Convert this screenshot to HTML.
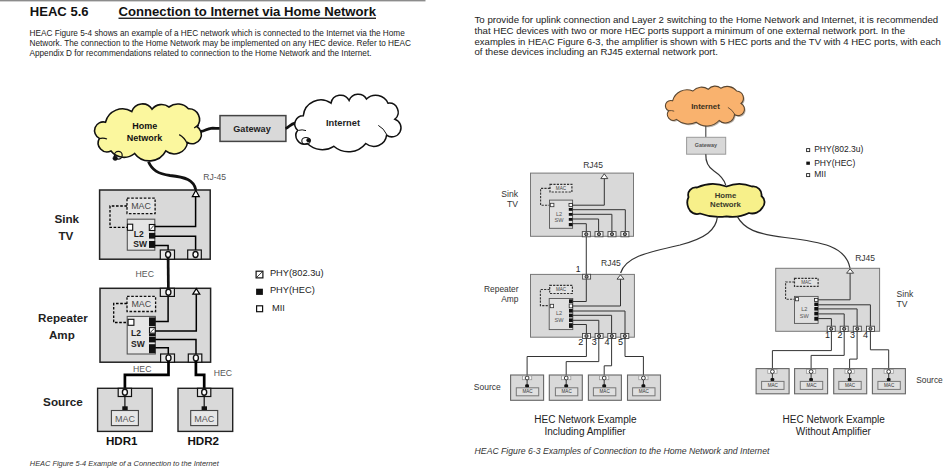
<!DOCTYPE html>
<html><head><meta charset="utf-8"><title>HEAC</title>
<style>html,body{margin:0;padding:0;background:#fff;width:946px;height:475px;overflow:hidden;position:relative}</style>
</head><body>
<svg width="946" height="475" viewBox="0 0 946 475" style="position:absolute;left:0;top:0;font-family:'Liberation Sans', sans-serif">
<rect x="0" y="0" width="946" height="475" fill="#fff"/>
<rect x="0.00" y="0.00" width="425.50" height="1.40" fill="#8c8c8c" stroke="none" stroke-width="0"/>
<text x="29.8" y="15.9" font-size="13" font-weight="bold" font-style="normal" text-anchor="start" fill="#111" textLength="58.8" lengthAdjust="spacingAndGlyphs">HEAC 5.6</text>
<text x="118.5" y="15.9" font-size="13" font-weight="bold" font-style="normal" text-anchor="start" fill="#111" textLength="257.5" lengthAdjust="spacingAndGlyphs">Connection to Internet via Home Network</text>
<rect x="118.50" y="17.60" width="257.50" height="1.30" fill="#111" stroke="none" stroke-width="0"/>
<text x="29.5" y="35.7" font-size="8.2" font-weight="normal" font-style="normal" text-anchor="start" fill="#222" textLength="375.3" lengthAdjust="spacingAndGlyphs">HEAC Figure 5-4 shows an example of a HEC network which is connected to the Internet via the Home</text>
<text x="29.5" y="45.7" font-size="8.2" font-weight="normal" font-style="normal" text-anchor="start" fill="#222" textLength="381.5" lengthAdjust="spacingAndGlyphs">Network. The connection to the Home Network may be implemented on any HEC device. Refer to HEAC</text>
<text x="29.5" y="55.7" font-size="8.2" font-weight="normal" font-style="normal" text-anchor="start" fill="#222" textLength="342.0" lengthAdjust="spacingAndGlyphs">Appendix D for recommendations related to connection to the Home Network and the Internet.</text>
<path d="M99.40,138.40 A8.70,8.70 0 0 1 105.50,122.20 A17.52,17.52 0 0 1 131.80,111.50 A11.23,11.23 0 0 1 152.00,109.20 A12.14,12.14 0 0 1 169.00,107.00 A14.23,14.23 0 0 1 188.40,108.80 A10.64,10.64 0 0 1 196.80,126.50 A9.25,9.25 0 0 1 187.50,142.50 A13.40,13.40 0 0 1 165.80,150.90 A18.47,18.47 0 0 1 134.60,153.50 A16.54,16.54 0 0 1 111.00,151.00 A8.98,8.98 0 0 1 99.40,138.40 Z" fill="#fbf79e" stroke="#111" stroke-width="1.6"/>
<path d="M99,138.8 Q103,137.4 107,139" fill="none" stroke="#111" stroke-width="1.2"/>
<path d="M179.2,134.6 Q184.5,137.5 187,143.2" fill="none" stroke="#111" stroke-width="1.2"/>
<path d="M194.2,128 Q196.2,126 199,125.6" fill="none" stroke="#111" stroke-width="1.1"/>
<circle cx="118.30" cy="155.30" r="3.9" fill="none" stroke="#111" stroke-width="1.2"/>
<circle cx="115.20" cy="158.20" r="2.3" fill="#111" stroke="#111" stroke-width="0.5"/>
<text x="144.7" y="128.7" font-size="9" font-weight="bold" font-style="normal" text-anchor="middle" fill="#111">Home</text>
<text x="144.6" y="140.9" font-size="9" font-weight="bold" font-style="normal" text-anchor="middle" fill="#111">Network</text>
<path d="M200.5,131.5 C205,131.5 207,128.5 211,128.3 C215,128.1 217,128.6 220.5,128.4" fill="none" stroke="#111" stroke-width="2.8"/>
<rect x="220.00" y="115.60" width="65.90" height="25.80" fill="#d9d9d9" stroke="#444" stroke-width="1.5"/>
<text x="252" y="132.2" font-size="9.1" font-weight="bold" font-style="normal" text-anchor="middle" fill="#222">Gateway</text>
<path d="M285.5,128.5 C289,127.5 290,124 295.5,123" fill="none" stroke="#111" stroke-width="2.8"/>
<path d="M297.70,130.30 A8.34,8.34 0 0 1 303.30,115.70 A17.55,17.55 0 0 1 331.00,103.20 A9.67,9.67 0 0 1 349.10,100.40 A9.74,9.74 0 0 1 366.50,99.00 A13.51,13.51 0 0 1 388.00,103.20 A9.09,9.09 0 0 1 394.90,119.20 A9.07,9.07 0 1 1 386.60,135.10 A12.80,12.80 0 0 1 365.80,143.50 A22.24,22.24 0 0 1 333.80,146.30 A20.98,20.98 0 0 1 307.40,143.50 A8.53,8.53 0 0 1 297.70,130.30 Z" fill="#fff" stroke="#111" stroke-width="1.5"/>
<path d="M298.4,130.4 Q302,129.2 306,130.6" fill="none" stroke="#111" stroke-width="1.0"/>
<path d="M378.3,125.4 Q384,128.5 386.6,134.4" fill="none" stroke="#111" stroke-width="1.0"/>
<ellipse cx="306" cy="140.9" rx="4.2" ry="3.4" fill="none" stroke="#111" stroke-width="1.1"/>
<circle cx="308.60" cy="140.20" r="2.0" fill="#111" stroke="#111" stroke-width="0.5"/>
<text x="343" y="126" font-size="9.3" font-weight="bold" font-style="normal" text-anchor="middle" fill="#222">Internet</text>
<path d="M148.5,161.8 C152,170 158,174 170,175.5 C185,177 194,180 195.8,190" fill="none" stroke="#111" stroke-width="2.8"/>
<text x="203.2" y="179.6" font-size="8.6" font-weight="normal" font-style="normal" text-anchor="start" fill="#555">RJ-45</text>
<rect x="99.60" y="190.00" width="110.60" height="69.20" fill="#d9d9d9" stroke="#222" stroke-width="1.5"/>
<text x="54.4" y="222.5" font-size="11.7" font-weight="bold" font-style="normal" text-anchor="start" fill="#222">Sink</text>
<text x="58.4" y="239.8" font-size="11.7" font-weight="bold" font-style="normal" text-anchor="start" fill="#222">TV</text>
<rect x="127.00" y="198.10" width="28.10" height="15.50" fill="#e4e4e4" stroke="#111" stroke-width="1.3" stroke-dasharray="2.6,1.6"/>
<text x="141.05" y="209.054" font-size="8.9" font-weight="normal" font-style="normal" text-anchor="middle" fill="#444">MAC</text>
<polyline points="127.00,206.00 110.00,206.00 110.00,227.40 127.70,227.40" fill="none" stroke="#000" stroke-width="1.3" stroke-dasharray="2.6,1.6"/>
<rect x="127.30" y="219.20" width="27.50" height="31.00" fill="#e6e6e6" stroke="#555" stroke-width="1.1"/>
<rect x="127.50" y="224.20" width="5.20" height="6.10" fill="#fff" stroke="#111" stroke-width="1.1"/>
<rect x="149.30" y="224.50" width="5.50" height="6.00" fill="#fff" stroke="#111" stroke-width="1.1"/>
<path d="M150.10,229.70 L154.00,225.30" fill="none" stroke="#111" stroke-width="0.8"/>
<rect x="149.00" y="232.90" width="6.20" height="5.70" fill="#111" stroke="none" stroke-width="0"/>
<rect x="149.00" y="241.00" width="6.20" height="6.90" fill="#111" stroke="none" stroke-width="0"/>
<text x="133.7" y="236.6" font-size="8.5" font-weight="bold" font-style="normal" text-anchor="start" fill="#222">L2</text>
<text x="133.3" y="247" font-size="8.5" font-weight="bold" font-style="normal" text-anchor="start" fill="#222">SW</text>
<polyline points="154.80,226.50 195.60,226.50 195.60,196.50" fill="none" stroke="#000" stroke-width="1.5"/>
<polyline points="155.00,236.30 195.60,236.30 195.60,252.00" fill="none" stroke="#000" stroke-width="1.5"/>
<polyline points="155.00,245.40 168.10,245.40 168.10,252.00" fill="none" stroke="#000" stroke-width="1.5"/>
<path d="M195.80,190.20 L199.30,196.60 L192.30,196.60 Z" fill="#fff" stroke="#000" stroke-width="1.2"/>
<rect x="160.30" y="250.00" width="14.20" height="9.20" fill="#e8e8e8" stroke="#111" stroke-width="1.2"/>
<ellipse cx="168.10" cy="254.50" rx="2.5" ry="3.0" fill="#fff" stroke="#111" stroke-width="1.4"/>
<rect x="187.70" y="250.00" width="13.60" height="9.20" fill="#e8e8e8" stroke="#111" stroke-width="1.2"/>
<ellipse cx="195.50" cy="254.50" rx="2.5" ry="3.0" fill="#fff" stroke="#111" stroke-width="1.4"/>
<path d="M168.1,257.5 L168.4,292" fill="none" stroke="#111" stroke-width="2.7"/>
<text x="135.6" y="276.9" font-size="8.7" font-weight="normal" font-style="normal" text-anchor="start" fill="#555">HEC</text>
<rect x="100.00" y="288.30" width="110.60" height="73.90" fill="#d9d9d9" stroke="#222" stroke-width="1.5"/>
<text x="38.1" y="321.5" font-size="11.6" font-weight="bold" font-style="normal" text-anchor="start" fill="#222">Repeater</text>
<text x="49" y="339.2" font-size="11.6" font-weight="bold" font-style="normal" text-anchor="start" fill="#222">Amp</text>
<rect x="127.00" y="296.40" width="28.60" height="15.10" fill="#e4e4e4" stroke="#111" stroke-width="1.3" stroke-dasharray="2.6,1.6"/>
<text x="141.3" y="307.154" font-size="8.9" font-weight="normal" font-style="normal" text-anchor="middle" fill="#444">MAC</text>
<polyline points="127.00,303.50 113.70,303.50 113.70,322.50 128.10,322.50" fill="none" stroke="#000" stroke-width="1.3" stroke-dasharray="2.6,1.6"/>
<rect x="127.20" y="316.40" width="28.10" height="37.60" fill="#e6e6e6" stroke="#555" stroke-width="1.1"/>
<rect x="128.10" y="319.30" width="5.80" height="6.00" fill="#fff" stroke="#111" stroke-width="1.1"/>
<rect x="149.00" y="317.40" width="6.50" height="8.80" fill="#111" stroke="none" stroke-width="0"/>
<rect x="149.50" y="327.60" width="5.70" height="5.60" fill="#fff" stroke="#111" stroke-width="1.1"/>
<path d="M150.30,332.40 L154.40,328.40" fill="none" stroke="#111" stroke-width="0.8"/>
<rect x="149.00" y="333.80" width="6.50" height="8.60" fill="#111" stroke="none" stroke-width="0"/>
<rect x="149.00" y="344.20" width="6.50" height="9.00" fill="#111" stroke="none" stroke-width="0"/>
<rect x="149.00" y="336.20" width="6.50" height="0.60" fill="#ddd" stroke="none" stroke-width="0"/>
<text x="131" y="336.4" font-size="8.5" font-weight="bold" font-style="normal" text-anchor="start" fill="#222">L2</text>
<text x="131" y="347.3" font-size="8.5" font-weight="bold" font-style="normal" text-anchor="start" fill="#222">SW</text>
<polyline points="155.30,321.60 168.10,321.60 168.10,295.00" fill="none" stroke="#000" stroke-width="1.5"/>
<polyline points="155.30,330.90 196.30,330.90 196.30,294.00" fill="none" stroke="#000" stroke-width="1.5"/>
<polyline points="155.30,339.50 196.00,339.50 196.00,356.00" fill="none" stroke="#000" stroke-width="1.5"/>
<polyline points="155.30,347.70 168.30,347.70 168.30,356.00" fill="none" stroke="#000" stroke-width="1.5"/>
<rect x="160.30" y="288.30" width="14.10" height="8.10" fill="#e8e8e8" stroke="#111" stroke-width="1.2"/>
<ellipse cx="168.40" cy="292.30" rx="2.5" ry="3.0" fill="#fff" stroke="#111" stroke-width="1.4"/>
<path d="M196.30,288.60 L199.80,294.20 L192.80,294.20 Z" fill="#fff" stroke="#000" stroke-width="1.2"/>
<rect x="160.60" y="354.00" width="13.90" height="8.20" fill="#e8e8e8" stroke="#111" stroke-width="1.2"/>
<ellipse cx="168.50" cy="357.90" rx="2.5" ry="3.0" fill="#fff" stroke="#111" stroke-width="1.4"/>
<rect x="188.30" y="354.00" width="13.50" height="8.20" fill="#e8e8e8" stroke="#111" stroke-width="1.2"/>
<ellipse cx="195.90" cy="357.90" rx="2.5" ry="3.0" fill="#fff" stroke="#111" stroke-width="1.4"/>
<polyline points="168.50,361.00 168.50,374.80 124.90,374.80 124.90,390.00" fill="none" stroke="#000" stroke-width="2.7"/>
<polyline points="195.90,361.00 195.90,374.80 204.20,374.80 204.20,390.00" fill="none" stroke="#000" stroke-width="2.7"/>
<text x="133.1" y="371.6" font-size="8.7" font-weight="normal" font-style="normal" text-anchor="start" fill="#555">HEC</text>
<text x="213.7" y="376.4" font-size="8.7" font-weight="normal" font-style="normal" text-anchor="start" fill="#555">HEC</text>
<text x="43.1" y="406.1" font-size="11.7" font-weight="bold" font-style="normal" text-anchor="start" fill="#222">Source</text>
<rect x="97.60" y="388.30" width="54.60" height="43.10" fill="#d9d9d9" stroke="#222" stroke-width="1.4"/>
<rect x="118.20" y="388.30" width="13.30" height="8.20" fill="#e8e8e8" stroke="#111" stroke-width="1.2"/>
<ellipse cx="124.90" cy="392.30" rx="2.5" ry="3.0" fill="#fff" stroke="#111" stroke-width="1.4"/>
<path d="M124.9,396 L124.9,407" fill="none" stroke="#111" stroke-width="1.2"/>
<rect x="122.30" y="406.30" width="5.40" height="4.50" fill="#111" stroke="none" stroke-width="0"/>
<rect x="111.40" y="410.50" width="27.00" height="15.10" fill="#e6e6e6" stroke="#444" stroke-width="1.1"/>
<text x="124.9" y="421.8" font-size="9" font-weight="normal" font-style="normal" text-anchor="middle" fill="#555">MAC</text>
<text x="106" y="444.7" font-size="11.6" font-weight="bold" font-style="normal" text-anchor="start" fill="#111">HDR1</text>
<rect x="178.00" y="388.30" width="54.70" height="43.10" fill="#d9d9d9" stroke="#222" stroke-width="1.4"/>
<rect x="197.50" y="388.30" width="13.30" height="8.20" fill="#e8e8e8" stroke="#111" stroke-width="1.2"/>
<ellipse cx="204.20" cy="392.30" rx="2.5" ry="3.0" fill="#fff" stroke="#111" stroke-width="1.4"/>
<path d="M204.2,396 L204.2,407" fill="none" stroke="#111" stroke-width="1.2"/>
<rect x="201.60" y="406.30" width="5.40" height="4.50" fill="#111" stroke="none" stroke-width="0"/>
<rect x="190.70" y="410.50" width="27.00" height="15.10" fill="#e6e6e6" stroke="#444" stroke-width="1.1"/>
<text x="204.2" y="421.8" font-size="9" font-weight="normal" font-style="normal" text-anchor="middle" fill="#555">MAC</text>
<text x="187.4" y="444.7" font-size="11.6" font-weight="bold" font-style="normal" text-anchor="start" fill="#111">HDR2</text>
<text x="29.8" y="466.4" font-size="7.4" font-weight="normal" font-style="italic" text-anchor="start" fill="#333" textLength="189" lengthAdjust="spacingAndGlyphs">HEAC Figure 5-4 Example of a Connection to the Internet</text>
<rect x="256.10" y="271.20" width="6.80" height="6.70" fill="#fff" stroke="#111" stroke-width="1.2"/>
<path d="M256.90,277.10 L262.10,272.00" fill="none" stroke="#111" stroke-width="0.8"/>
<rect x="256.10" y="288.70" width="6.80" height="6.20" fill="#111" stroke="none" stroke-width="0"/>
<rect x="256.60" y="305.80" width="6.00" height="5.90" fill="#fff" stroke="#111" stroke-width="1.2"/>
<text x="269.9" y="276.2" font-size="9.3" font-weight="normal" font-style="normal" text-anchor="start" fill="#222">PHY(802.3u)</text>
<text x="269.9" y="293.1" font-size="9.3" font-weight="normal" font-style="normal" text-anchor="start" fill="#222">PHY(HEC)</text>
<text x="271.9" y="310.6" font-size="9.3" font-weight="normal" font-style="normal" text-anchor="start" fill="#222">MII</text>
<text x="474.5" y="23.2" font-size="9.6" font-weight="normal" font-style="normal" text-anchor="start" fill="#222" textLength="463.7" lengthAdjust="spacingAndGlyphs">To provide for uplink connection and Layer 2 switching to the Home Network and Internet, it is recommended</text>
<text x="474.5" y="33.9" font-size="9.6" font-weight="normal" font-style="normal" text-anchor="start" fill="#222" textLength="430.5" lengthAdjust="spacingAndGlyphs">that HEC devices with two or more HEC ports support a minimum of one external network port. In the</text>
<text x="474.5" y="44.5" font-size="9.6" font-weight="normal" font-style="normal" text-anchor="start" fill="#222" textLength="466.3" lengthAdjust="spacingAndGlyphs">examples in HEAC Figure 6-3, the amplifier is shown with 5 HEC ports and the TV with 4 HEC ports, with each</text>
<text x="474.5" y="55.0" font-size="9.6" font-weight="normal" font-style="normal" text-anchor="start" fill="#222" textLength="243.4" lengthAdjust="spacingAndGlyphs">of these devices including an RJ45 external network port.</text>
<path d="M668.80,110.70 A5.30,5.30 0 1 1 672.60,100.80 A14.96,14.96 0 0 1 692.90,91.00 A11.59,11.59 0 0 1 708.20,89.30 A8.88,8.88 0 0 1 720.80,88.20 A12.30,12.30 0 0 1 736.70,91.00 A7.15,7.15 0 0 1 741.00,103.50 A6.40,6.40 0 1 1 734.50,114.50 A9.20,9.20 0 0 1 719.10,120.50 A16.67,16.67 0 0 1 696.10,122.20 A18.15,18.15 0 0 1 676.40,119.40 A5.85,5.85 0 0 1 668.80,110.70 Z" fill="#7a6a5a" stroke="none" stroke-width="0" transform="translate(1.2,1.3)" opacity="0.5"/>
<path d="M668.80,110.70 A5.30,5.30 0 1 1 672.60,100.80 A14.96,14.96 0 0 1 692.90,91.00 A11.59,11.59 0 0 1 708.20,89.30 A8.88,8.88 0 0 1 720.80,88.20 A12.30,12.30 0 0 1 736.70,91.00 A7.15,7.15 0 0 1 741.00,103.50 A6.40,6.40 0 1 1 734.50,114.50 A9.20,9.20 0 0 1 719.10,120.50 A16.67,16.67 0 0 1 696.10,122.20 A18.15,18.15 0 0 1 676.40,119.40 A5.85,5.85 0 0 1 668.80,110.70 Z" fill="#f9b26e" stroke="#5a4630" stroke-width="1.1"/>
<path d="M668.8,110.7 Q671.5,110.2 674.2,111.2" fill="none" stroke="#5a4630" stroke-width="0.9"/>
<path d="M727.9,107.4 Q732.5,110 734.5,114" fill="none" stroke="#5a4630" stroke-width="0.9"/>
<text x="705.5" y="109" font-size="7.8" font-weight="bold" font-style="normal" text-anchor="middle" fill="#3a3020">Internet</text>
<path d="M705.8,126 L705.8,137.3" fill="none" stroke="#444" stroke-width="1.1"/>
<rect x="686.60" y="137.30" width="39.10" height="16.90" fill="#d8d8d8" stroke="#9a9a9a" stroke-width="1.0"/>
<text x="705.8" y="147.1" font-size="5.4" font-weight="bold" font-style="normal" text-anchor="middle" fill="#555">Gateway</text>
<path d="M705.8,154.2 C705.5,162 708,167 714,171 C720,175 724,179 725.7,185" fill="none" stroke="#333" stroke-width="1.2"/>
<path d="M688.50,208.00 A13.20,13.20 0 0 1 688.50,197.00 A7.50,7.50 0 0 1 697.00,187.50 A37.77,37.77 0 0 1 726.50,186.50 A32.83,32.83 0 0 1 752.00,186.50 A8.49,8.49 0 0 1 761.50,196.00 A7.89,7.89 0 0 1 762.50,207.50 A11.67,11.67 0 0 1 749.00,213.00 A38.13,38.13 0 0 1 726.50,216.30 A52.07,52.07 0 0 1 700.00,213.50 A9.01,9.01 0 0 1 688.50,208.00 Z" fill="#f7f08a" stroke="#111" stroke-width="1.8"/>
<text x="725.5" y="197.5" font-size="7.8" font-weight="bold" font-style="normal" text-anchor="middle" fill="#3a3a2a">Home</text>
<text x="725.5" y="207.3" font-size="7.8" font-weight="bold" font-style="normal" text-anchor="middle" fill="#3a3a2a">Network</text>
<path d="M717.5,216.4 C716,230 706,238 680,245 C650,252 626,256 620.6,273" fill="none" stroke="#333" stroke-width="1.2"/>
<path d="M737.2,216.4 C744,229 756,234 785,237.5 C822,242 846,246 850.1,268.5" fill="none" stroke="#333" stroke-width="1.2"/>
<rect x="806.60" y="148.60" width="3.10" height="3.00" fill="#fff" stroke="#222" stroke-width="0.9"/>
<rect x="806.30" y="161.60" width="3.60" height="3.20" fill="#111" stroke="none" stroke-width="0"/>
<rect x="806.60" y="173.60" width="3.10" height="3.00" fill="#fff" stroke="#222" stroke-width="0.9"/>
<text x="814.2" y="152.4" font-size="8.5" font-weight="normal" font-style="normal" text-anchor="start" fill="#222">PHY(802.3u)</text>
<text x="814.2" y="165.5" font-size="8.5" font-weight="normal" font-style="normal" text-anchor="start" fill="#222">PHY(HEC)</text>
<text x="814.2" y="177.4" font-size="8.5" font-weight="normal" font-style="normal" text-anchor="start" fill="#222">MII</text>
<rect x="530.50" y="173.10" width="103.00" height="63.20" fill="#d9d9d9" stroke="#777" stroke-width="1.0"/>
<rect x="550.00" y="184.40" width="21.90" height="7.60" fill="#e2e2e2" stroke="#333" stroke-width="1.2" stroke-dasharray="2.2,1.2"/>
<text x="560.95" y="189.79999999999998" font-size="4.6" font-weight="normal" font-style="normal" text-anchor="middle" fill="#444">MAC</text>
<polyline points="550.00,188.40 540.60,188.40 540.60,205.20 550.30,205.20" fill="none" stroke="#333" stroke-width="1.1" stroke-dasharray="2.2,1.2"/>
<rect x="549.50" y="200.10" width="23.10" height="28.20" fill="#e0e0e0" stroke="#555" stroke-width="0.9"/>
<rect x="550.30" y="203.30" width="3.60" height="3.40" fill="#fff" stroke="#333" stroke-width="0.8"/>
<text x="559.05" y="215.6" font-size="5.6" font-weight="normal" font-style="normal" text-anchor="middle" fill="#555">L2</text>
<text x="559.05" y="222" font-size="5.6" font-weight="normal" font-style="normal" text-anchor="middle" fill="#555">SW</text>
<rect x="569.00" y="203.50" width="3.40" height="3.00" fill="#fff" stroke="#222" stroke-width="0.8"/>
<rect x="568.80" y="208.00" width="3.80" height="2.80" fill="#111" stroke="none" stroke-width="0"/>
<rect x="568.80" y="213.00" width="3.80" height="2.80" fill="#111" stroke="none" stroke-width="0"/>
<rect x="568.80" y="218.00" width="3.80" height="2.80" fill="#111" stroke="none" stroke-width="0"/>
<rect x="568.80" y="223.00" width="3.80" height="3.20" fill="#111" stroke="none" stroke-width="0"/>
<polyline points="572.60,205.20 604.30,205.20 604.30,178.50" fill="none" stroke="#333" stroke-width="1.0"/>
<polyline points="572.60,209.70 625.30,209.70 625.30,233.00" fill="none" stroke="#333" stroke-width="1.0"/>
<polyline points="572.60,214.30 611.90,214.30 611.90,233.00" fill="none" stroke="#333" stroke-width="1.0"/>
<polyline points="572.60,219.00 598.60,219.00 598.60,233.00" fill="none" stroke="#333" stroke-width="1.0"/>
<polyline points="572.60,223.70 586.30,223.70 586.30,233.00" fill="none" stroke="#333" stroke-width="1.0"/>
<path d="M604.30,173.80 L607.80,178.60 L600.80,178.60 Z" fill="#fff" stroke="#333" stroke-width="0.9"/>
<rect x="582.30" y="231.60" width="8.00" height="5.20" fill="#f6f6f6" stroke="#444" stroke-width="0.9"/>
<circle cx="586.30" cy="234.20" r="1.6" fill="#888" stroke="#222" stroke-width="0.9"/>
<rect x="595.00" y="231.60" width="8.00" height="5.20" fill="#f6f6f6" stroke="#444" stroke-width="0.9"/>
<circle cx="599.00" cy="234.20" r="1.6" fill="#888" stroke="#222" stroke-width="0.9"/>
<rect x="608.00" y="231.60" width="8.00" height="5.20" fill="#f6f6f6" stroke="#444" stroke-width="0.9"/>
<circle cx="612.00" cy="234.20" r="1.6" fill="#888" stroke="#222" stroke-width="0.9"/>
<rect x="620.90" y="231.60" width="8.00" height="5.20" fill="#f6f6f6" stroke="#444" stroke-width="0.9"/>
<circle cx="624.90" cy="234.20" r="1.6" fill="#888" stroke="#222" stroke-width="0.9"/>
<text x="583.2" y="167.6" font-size="8.5" font-weight="normal" font-style="normal" text-anchor="start" fill="#333">RJ45</text>
<text x="518" y="197.2" font-size="8.6" font-weight="normal" font-style="normal" text-anchor="end" fill="#333">Sink</text>
<text x="518" y="207.3" font-size="8.6" font-weight="normal" font-style="normal" text-anchor="end" fill="#333">TV</text>
<path d="M586.3,236.8 L586.3,274.4" fill="none" stroke="#444" stroke-width="1.1"/>
<rect x="530.50" y="274.40" width="103.90" height="62.80" fill="#d9d9d9" stroke="#777" stroke-width="1.0"/>
<rect x="549.70" y="285.40" width="22.70" height="8.10" fill="#e2e2e2" stroke="#333" stroke-width="1.2" stroke-dasharray="2.2,1.2"/>
<text x="561.05" y="291.05" font-size="4.6" font-weight="normal" font-style="normal" text-anchor="middle" fill="#444">MAC</text>
<polyline points="549.70,289.50 540.40,289.50 540.40,305.60 550.20,305.60" fill="none" stroke="#333" stroke-width="1.1" stroke-dasharray="2.2,1.2"/>
<rect x="549.20" y="298.50" width="23.60" height="31.10" fill="#e0e0e0" stroke="#555" stroke-width="0.9"/>
<rect x="550.20" y="304.30" width="3.40" height="3.40" fill="#fff" stroke="#333" stroke-width="0.8"/>
<text x="559.0" y="315" font-size="5.6" font-weight="normal" font-style="normal" text-anchor="middle" fill="#555">L2</text>
<text x="559.0" y="322" font-size="5.6" font-weight="normal" font-style="normal" text-anchor="middle" fill="#555">SW</text>
<rect x="569.00" y="299.30" width="3.80" height="3.70" fill="#111" stroke="none" stroke-width="0"/>
<rect x="569.20" y="304.00" width="3.40" height="3.80" fill="#fff" stroke="#222" stroke-width="0.8"/>
<rect x="569.00" y="309.00" width="3.80" height="3.60" fill="#111" stroke="none" stroke-width="0"/>
<rect x="569.00" y="313.70" width="3.80" height="3.60" fill="#111" stroke="none" stroke-width="0"/>
<rect x="569.00" y="318.40" width="3.80" height="3.60" fill="#111" stroke="none" stroke-width="0"/>
<rect x="569.00" y="323.20" width="3.80" height="4.70" fill="#111" stroke="none" stroke-width="0"/>
<polyline points="572.80,301.50 586.30,301.50 586.30,279.00" fill="none" stroke="#333" stroke-width="1.0"/>
<polyline points="572.80,306.00 620.50,306.00 620.50,279.00" fill="none" stroke="#333" stroke-width="1.0"/>
<polyline points="572.80,311.00 625.00,311.00 625.00,334.00" fill="none" stroke="#333" stroke-width="1.0"/>
<polyline points="572.80,315.30 611.60,315.30 611.60,334.00" fill="none" stroke="#333" stroke-width="1.0"/>
<polyline points="572.80,320.30 598.80,320.30 598.80,334.00" fill="none" stroke="#333" stroke-width="1.0"/>
<polyline points="572.80,324.50 586.40,324.50 586.40,334.00" fill="none" stroke="#333" stroke-width="1.0"/>
<path d="M620.50,274.80 L624.00,279.20 L617.00,279.20 Z" fill="#fff" stroke="#333" stroke-width="0.9"/>
<rect x="582.60" y="274.30" width="8.00" height="4.80" fill="#f6f6f6" stroke="#444" stroke-width="0.9"/>
<circle cx="586.60" cy="276.70" r="1.6" fill="#888" stroke="#222" stroke-width="0.9"/>
<rect x="582.50" y="333.50" width="8.00" height="5.00" fill="#f6f6f6" stroke="#444" stroke-width="0.9"/>
<circle cx="586.50" cy="336.00" r="1.6" fill="#888" stroke="#222" stroke-width="0.9"/>
<rect x="595.10" y="333.50" width="8.00" height="5.00" fill="#f6f6f6" stroke="#444" stroke-width="0.9"/>
<circle cx="599.10" cy="336.00" r="1.6" fill="#888" stroke="#222" stroke-width="0.9"/>
<rect x="607.80" y="333.50" width="8.00" height="5.00" fill="#f6f6f6" stroke="#444" stroke-width="0.9"/>
<circle cx="611.80" cy="336.00" r="1.6" fill="#888" stroke="#222" stroke-width="0.9"/>
<rect x="620.80" y="333.50" width="8.00" height="5.00" fill="#f6f6f6" stroke="#444" stroke-width="0.9"/>
<circle cx="624.80" cy="336.00" r="1.6" fill="#888" stroke="#222" stroke-width="0.9"/>
<text x="575.8" y="271.9" font-size="8.6" font-weight="normal" font-style="normal" text-anchor="start" fill="#222">1</text>
<text x="601" y="266" font-size="8.5" font-weight="normal" font-style="normal" text-anchor="start" fill="#333">RJ45</text>
<text x="518.5" y="291.7" font-size="8.4" font-weight="normal" font-style="normal" text-anchor="end" fill="#333">Repeater</text>
<text x="518.5" y="301.6" font-size="8.4" font-weight="normal" font-style="normal" text-anchor="end" fill="#333">Amp</text>
<text x="578.3" y="344.8" font-size="9" font-weight="normal" font-style="normal" text-anchor="start" fill="#222">2</text>
<text x="591.8" y="344.8" font-size="9" font-weight="normal" font-style="normal" text-anchor="start" fill="#222">3</text>
<text x="604.4" y="344.8" font-size="9" font-weight="normal" font-style="normal" text-anchor="start" fill="#222">4</text>
<text x="617.9" y="344.8" font-size="9" font-weight="normal" font-style="normal" text-anchor="start" fill="#222">5</text>
<polyline points="586.40,338.00 586.40,356.50 527.10,356.50 527.10,375.50" fill="none" stroke="#333" stroke-width="1.0"/>
<polyline points="598.80,338.00 598.80,361.60 566.20,361.60 566.20,375.50" fill="none" stroke="#333" stroke-width="1.0"/>
<polyline points="611.60,338.00 611.60,365.80 604.20,365.80 604.20,375.50" fill="none" stroke="#333" stroke-width="1.0"/>
<polyline points="625.00,338.00 625.00,356.50 643.40,356.50 643.40,375.50" fill="none" stroke="#333" stroke-width="1.0"/>
<rect x="510.60" y="375.00" width="33.00" height="25.30" fill="#d9d9d9" stroke="#666" stroke-width="1.1"/>
<path d="M527.1,379.0 L527.1,386.0" fill="none" stroke="#222" stroke-width="0.9"/>
<rect x="522.50" y="375.90" width="9.20" height="3.80" fill="#fbfbfb" stroke="#999" stroke-width="0.8"/>
<circle cx="527.10" cy="378.00" r="1.9" fill="#fff" stroke="#222" stroke-width="0.9"/>
<rect x="525.20" y="384.30" width="3.8" height="3.4" rx="1.2" fill="#111"/>
<rect x="516.30" y="387.80" width="22.40" height="8.00" fill="#e0e0e0" stroke="#777" stroke-width="1.0"/>
<text x="527.5" y="393.3" font-size="4.6" font-weight="normal" font-style="normal" text-anchor="middle" fill="#333">MAC</text>
<rect x="549.30" y="375.00" width="33.00" height="25.30" fill="#d9d9d9" stroke="#666" stroke-width="1.1"/>
<path d="M566.2,379.0 L566.2,386.0" fill="none" stroke="#222" stroke-width="0.9"/>
<rect x="561.60" y="375.90" width="9.20" height="3.80" fill="#fbfbfb" stroke="#999" stroke-width="0.8"/>
<circle cx="566.20" cy="378.00" r="1.9" fill="#fff" stroke="#222" stroke-width="0.9"/>
<rect x="564.30" y="384.30" width="3.8" height="3.4" rx="1.2" fill="#111"/>
<rect x="555.40" y="387.80" width="22.40" height="8.00" fill="#e0e0e0" stroke="#777" stroke-width="1.0"/>
<text x="566.6" y="393.3" font-size="4.6" font-weight="normal" font-style="normal" text-anchor="middle" fill="#333">MAC</text>
<rect x="588.40" y="375.00" width="33.00" height="25.30" fill="#d9d9d9" stroke="#666" stroke-width="1.1"/>
<path d="M604.2,379.0 L604.2,386.0" fill="none" stroke="#222" stroke-width="0.9"/>
<rect x="599.60" y="375.90" width="9.20" height="3.80" fill="#fbfbfb" stroke="#999" stroke-width="0.8"/>
<circle cx="604.20" cy="378.00" r="1.9" fill="#fff" stroke="#222" stroke-width="0.9"/>
<rect x="602.30" y="384.30" width="3.8" height="3.4" rx="1.2" fill="#111"/>
<rect x="593.40" y="387.80" width="22.40" height="8.00" fill="#e0e0e0" stroke="#777" stroke-width="1.0"/>
<text x="604.6" y="393.3" font-size="4.6" font-weight="normal" font-style="normal" text-anchor="middle" fill="#333">MAC</text>
<rect x="627.50" y="375.00" width="33.00" height="25.30" fill="#d9d9d9" stroke="#666" stroke-width="1.1"/>
<path d="M643.4,379.0 L643.4,386.0" fill="none" stroke="#222" stroke-width="0.9"/>
<rect x="638.80" y="375.90" width="9.20" height="3.80" fill="#fbfbfb" stroke="#999" stroke-width="0.8"/>
<circle cx="643.40" cy="378.00" r="1.9" fill="#fff" stroke="#222" stroke-width="0.9"/>
<rect x="641.50" y="384.30" width="3.8" height="3.4" rx="1.2" fill="#111"/>
<rect x="632.60" y="387.80" width="22.40" height="8.00" fill="#e0e0e0" stroke="#777" stroke-width="1.0"/>
<text x="643.8" y="393.3" font-size="4.6" font-weight="normal" font-style="normal" text-anchor="middle" fill="#333">MAC</text>
<text x="473.8" y="389.7" font-size="8.5" font-weight="normal" font-style="normal" text-anchor="start" fill="#333">Source</text>
<text x="585.4" y="423.4" font-size="10" font-weight="normal" font-style="normal" text-anchor="middle" fill="#222">HEC Network Example</text>
<text x="585" y="434.8" font-size="10" font-weight="normal" font-style="normal" text-anchor="middle" fill="#222">Including Amplifier</text>
<text x="474.6" y="453.9" font-size="8.67" font-weight="normal" font-style="italic" text-anchor="start" fill="#333" textLength="294.8" lengthAdjust="spacingAndGlyphs">HEAC Figure 6-3 Examples of Connection to the Home Network and Internet</text>
<rect x="775.70" y="268.30" width="103.90" height="63.00" fill="#d9d9d9" stroke="#777" stroke-width="1.0"/>
<rect x="794.50" y="278.40" width="23.60" height="7.90" fill="#e2e2e2" stroke="#333" stroke-width="1.2" stroke-dasharray="2.2,1.2"/>
<text x="806.3" y="283.95000000000005" font-size="4.6" font-weight="normal" font-style="normal" text-anchor="middle" fill="#444">MAC</text>
<polyline points="794.50,282.00 785.60,282.00 785.60,299.30 795.40,299.30" fill="none" stroke="#333" stroke-width="1.1" stroke-dasharray="2.2,1.2"/>
<rect x="794.50" y="296.40" width="23.60" height="27.00" fill="#e0e0e0" stroke="#555" stroke-width="0.9"/>
<rect x="795.40" y="297.60" width="3.20" height="3.20" fill="#fff" stroke="#333" stroke-width="0.8"/>
<text x="804.3" y="311" font-size="5.6" font-weight="normal" font-style="normal" text-anchor="middle" fill="#555">L2</text>
<text x="804.3" y="318" font-size="5.6" font-weight="normal" font-style="normal" text-anchor="middle" fill="#555">SW</text>
<rect x="814.50" y="298.40" width="3.40" height="3.10" fill="#fff" stroke="#222" stroke-width="0.8"/>
<rect x="814.30" y="302.60" width="3.80" height="3.40" fill="#111" stroke="none" stroke-width="0"/>
<rect x="814.30" y="307.00" width="3.80" height="3.60" fill="#111" stroke="none" stroke-width="0"/>
<rect x="814.30" y="311.80" width="3.80" height="3.60" fill="#111" stroke="none" stroke-width="0"/>
<rect x="814.30" y="316.80" width="3.80" height="3.90" fill="#111" stroke="none" stroke-width="0"/>
<polyline points="818.10,299.80 850.10,299.80 850.10,273.00" fill="none" stroke="#333" stroke-width="1.0"/>
<polyline points="818.10,304.80 870.40,304.80 870.40,328.00" fill="none" stroke="#333" stroke-width="1.0"/>
<polyline points="818.10,308.90 857.10,308.90 857.10,328.00" fill="none" stroke="#333" stroke-width="1.0"/>
<polyline points="818.10,313.90 844.20,313.90 844.20,328.00" fill="none" stroke="#333" stroke-width="1.0"/>
<polyline points="818.10,318.60 831.40,318.60 831.40,328.00" fill="none" stroke="#333" stroke-width="1.0"/>
<path d="M850.10,268.80 L853.60,273.20 L846.60,273.20 Z" fill="#fff" stroke="#333" stroke-width="0.9"/>
<rect x="827.20" y="326.20" width="8.00" height="5.30" fill="#f6f6f6" stroke="#444" stroke-width="0.9"/>
<circle cx="831.20" cy="328.85" r="1.6" fill="#888" stroke="#222" stroke-width="0.9"/>
<rect x="840.20" y="326.20" width="8.00" height="5.30" fill="#f6f6f6" stroke="#444" stroke-width="0.9"/>
<circle cx="844.20" cy="328.85" r="1.6" fill="#888" stroke="#222" stroke-width="0.9"/>
<rect x="853.30" y="326.20" width="8.00" height="5.30" fill="#f6f6f6" stroke="#444" stroke-width="0.9"/>
<circle cx="857.30" cy="328.85" r="1.6" fill="#888" stroke="#222" stroke-width="0.9"/>
<rect x="866.50" y="326.20" width="8.00" height="5.30" fill="#f6f6f6" stroke="#444" stroke-width="0.9"/>
<circle cx="870.50" cy="328.85" r="1.6" fill="#888" stroke="#222" stroke-width="0.9"/>
<text x="855.2" y="261" font-size="8.5" font-weight="normal" font-style="normal" text-anchor="start" fill="#333">RJ45</text>
<text x="896.5" y="296.9" font-size="8.6" font-weight="normal" font-style="normal" text-anchor="start" fill="#333">Sink</text>
<text x="896.5" y="307" font-size="8.6" font-weight="normal" font-style="normal" text-anchor="start" fill="#333">TV</text>
<text x="824.9" y="338" font-size="9" font-weight="normal" font-style="normal" text-anchor="start" fill="#222">1</text>
<text x="837.5" y="338" font-size="9" font-weight="normal" font-style="normal" text-anchor="start" fill="#222">2</text>
<text x="850.1" y="338" font-size="9" font-weight="normal" font-style="normal" text-anchor="start" fill="#222">3</text>
<text x="863.1" y="338" font-size="9" font-weight="normal" font-style="normal" text-anchor="start" fill="#222">4</text>
<polyline points="831.40,331.00 831.40,350.60 772.40,350.60 772.40,369.20" fill="none" stroke="#333" stroke-width="1.0"/>
<polyline points="844.20,331.00 844.20,355.40 811.10,355.40 811.10,369.20" fill="none" stroke="#333" stroke-width="1.0"/>
<polyline points="857.10,331.00 857.10,359.10 849.60,359.10 849.60,369.20" fill="none" stroke="#333" stroke-width="1.0"/>
<polyline points="870.40,331.00 870.40,349.80 888.70,349.80 888.70,369.20" fill="none" stroke="#333" stroke-width="1.0"/>
<rect x="756.10" y="368.60" width="33.00" height="25.20" fill="#d9d9d9" stroke="#666" stroke-width="1.1"/>
<path d="M772.4,372.6 L772.4,379.6" fill="none" stroke="#222" stroke-width="0.9"/>
<rect x="767.80" y="369.50" width="9.20" height="3.80" fill="#fbfbfb" stroke="#999" stroke-width="0.8"/>
<circle cx="772.40" cy="371.60" r="1.9" fill="#fff" stroke="#222" stroke-width="0.9"/>
<rect x="770.50" y="377.90" width="3.8" height="3.4" rx="1.2" fill="#111"/>
<rect x="761.60" y="381.40" width="22.40" height="8.00" fill="#e0e0e0" stroke="#777" stroke-width="1.0"/>
<text x="772.8" y="386.90000000000003" font-size="4.6" font-weight="normal" font-style="normal" text-anchor="middle" fill="#333">MAC</text>
<rect x="794.60" y="368.60" width="33.00" height="25.20" fill="#d9d9d9" stroke="#666" stroke-width="1.1"/>
<path d="M811.1,372.6 L811.1,379.6" fill="none" stroke="#222" stroke-width="0.9"/>
<rect x="806.50" y="369.50" width="9.20" height="3.80" fill="#fbfbfb" stroke="#999" stroke-width="0.8"/>
<circle cx="811.10" cy="371.60" r="1.9" fill="#fff" stroke="#222" stroke-width="0.9"/>
<rect x="809.20" y="377.90" width="3.8" height="3.4" rx="1.2" fill="#111"/>
<rect x="800.30" y="381.40" width="22.40" height="8.00" fill="#e0e0e0" stroke="#777" stroke-width="1.0"/>
<text x="811.5" y="386.90000000000003" font-size="4.6" font-weight="normal" font-style="normal" text-anchor="middle" fill="#333">MAC</text>
<rect x="833.70" y="368.60" width="33.00" height="25.20" fill="#d9d9d9" stroke="#666" stroke-width="1.1"/>
<path d="M849.6,372.6 L849.6,379.6" fill="none" stroke="#222" stroke-width="0.9"/>
<rect x="845.00" y="369.50" width="9.20" height="3.80" fill="#fbfbfb" stroke="#999" stroke-width="0.8"/>
<circle cx="849.60" cy="371.60" r="1.9" fill="#fff" stroke="#222" stroke-width="0.9"/>
<rect x="847.70" y="377.90" width="3.8" height="3.4" rx="1.2" fill="#111"/>
<rect x="838.80" y="381.40" width="22.40" height="8.00" fill="#e0e0e0" stroke="#777" stroke-width="1.0"/>
<text x="850.0" y="386.90000000000003" font-size="4.6" font-weight="normal" font-style="normal" text-anchor="middle" fill="#333">MAC</text>
<rect x="872.40" y="368.60" width="33.00" height="25.20" fill="#d9d9d9" stroke="#666" stroke-width="1.1"/>
<path d="M888.7,372.6 L888.7,379.6" fill="none" stroke="#222" stroke-width="0.9"/>
<rect x="884.10" y="369.50" width="9.20" height="3.80" fill="#fbfbfb" stroke="#999" stroke-width="0.8"/>
<circle cx="888.70" cy="371.60" r="1.9" fill="#fff" stroke="#222" stroke-width="0.9"/>
<rect x="886.80" y="377.90" width="3.8" height="3.4" rx="1.2" fill="#111"/>
<rect x="877.90" y="381.40" width="22.40" height="8.00" fill="#e0e0e0" stroke="#777" stroke-width="1.0"/>
<text x="889.1" y="386.90000000000003" font-size="4.6" font-weight="normal" font-style="normal" text-anchor="middle" fill="#333">MAC</text>
<text x="916.2" y="383.4" font-size="8.4" font-weight="normal" font-style="normal" text-anchor="start" fill="#333">Source</text>
<text x="833.7" y="423.4" font-size="10" font-weight="normal" font-style="normal" text-anchor="middle" fill="#222">HEC Network Example</text>
<text x="833.3" y="434.8" font-size="10" font-weight="normal" font-style="normal" text-anchor="middle" fill="#222">Without Amplifier</text>
</svg>
</body></html>
